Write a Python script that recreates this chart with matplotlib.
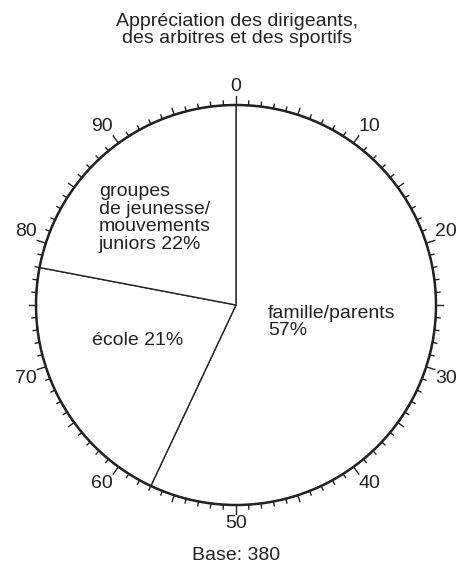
import numpy as np
import matplotlib
matplotlib.use("Agg")
import matplotlib.pyplot as plt

plt.rcParams['font.family'] = ['Liberation Sans', 'DejaVu Sans']

# Données du camembert (en %), sens horaire à partir de 0
categories = ["famille/parents\n57%", "école 21%", "groupes\nde jeunesse/\nmouvements\njuniors 22%"]
valeurs = [57, 21, 22]
titre = "Appréciation des dirigeants,\ndes arbitres et des sportifs"
base = "Base: 380"
graduations = list(range(0, 100, 10))  # étiquettes de l'échelle

couleur = '#222222'
fs = 14

fig = plt.figure(figsize=(4.57, 5.84), dpi=100)
ax = fig.add_axes([0, 0, 1, 1])

# Camembert
ax.pie(valeurs, startangle=90, counterclock=False, radius=1, colors=['white'] * 3,
       wedgeprops=dict(edgecolor=couleur, linewidth=1.0))
ax.add_patch(plt.Circle((0, 0), 1, fill=False, edgecolor=couleur, linewidth=1.8))

# pie() impose ses limites : on les remet après
ax.set_xlim(-1.18, 1.105)
ax.set_ylim(-1.395, 1.525)
ax.set_aspect('equal')
ax.axis('off')

# Echelle de 0 à 100 autour du cercle
for k in range(100):
    a = np.deg2rad(90 - k * 3.6)
    if k % 10 == 0:
        l = 0.045
    elif k % 5 == 0:
        l = 0.034
    else:
        l = 0.022
    ax.plot([np.cos(a), (1 + l) * np.cos(a)], [np.sin(a), (1 + l) * np.sin(a)],
            color=couleur, lw=1.0)

for g in graduations:
    a = np.deg2rad(90 - g * 3.6)
    s, c = np.cos(a), np.sin(a)
    ha = 'left' if s > 0.3 else ('right' if s < -0.3 else 'center')
    va = 'bottom' if c > 0.3 else ('top' if c < -0.3 else 'center')
    ax.text(1.045 * s, 1.05 * c, str(g), ha=ha, va=va, fontsize=fs, color=couleur)

# Etiquettes des secteurs
ax.text(0.16, -0.085, categories[0], ha='left', va='center', fontsize=fs, color=couleur,
        linespacing=1.05)
ax.text(-0.72, -0.175, categories[1], ha='left', va='center', fontsize=fs, color=couleur)
ax.text(-0.685, 0.435, categories[2], ha='left', va='center', fontsize=fs, color=couleur,
        linespacing=1.05)

# Titre et base
ax.text(0.005, 1.375, titre, ha='center', va='center', fontsize=fs, color=couleur,
        linespacing=1.05)
ax.text(0.0, -1.25, base, ha='center', va='center', fontsize=fs, color=couleur)

fig.savefig("out.png", dpi=100)
